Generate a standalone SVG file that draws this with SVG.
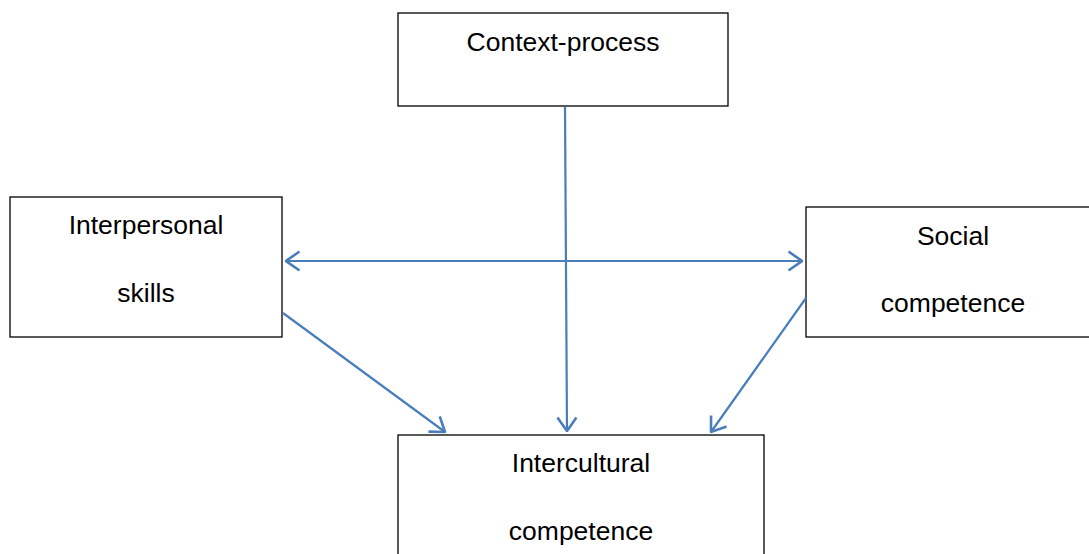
<svg xmlns="http://www.w3.org/2000/svg" width="1089" height="554" viewBox="0 0 1089 554">
<style>
.box{fill:#fff;stroke:#000;stroke-width:1.3}
.t{font-family:"Liberation Sans",Arial,sans-serif;font-size:26.5px;fill:#000;text-anchor:middle}
.c{fill:none;stroke:#4a7ebb;stroke-width:2.2}
</style>
<defs>
<marker id="ah" viewBox="0 0 16 22" refX="15" refY="11" markerWidth="16" markerHeight="22" markerUnits="userSpaceOnUse" orient="auto-start-reverse">
<path d="M1.5,1.5 L15,11 L1.5,20.5" fill="none" stroke="#4a7ebb" stroke-width="2.6"/>
</marker>
</defs>
<rect width="1089" height="554" fill="#fff"/>
<g id="n-context"><rect class="box" x="398" y="13" width="330" height="93"/><text class="t" x="563" y="51">Context-process</text></g>
<g id="n-interpersonal"><rect class="box" x="10" y="197" width="272" height="140"/><text class="t" x="146" y="234">Interpersonal</text><text class="t" x="146" y="302">skills</text></g>
<g id="n-social"><rect class="box" x="806" y="207" width="290" height="130"/><text class="t" x="953" y="245">Social</text><text class="t" x="953" y="312">competence</text></g>
<g id="n-intercultural"><rect class="box" x="398" y="435" width="366" height="130"/><text class="t" x="581" y="472">Intercultural</text><text class="t" x="581" y="540">competence</text></g>
<g id="connectors">
<path class="c" d="M565,107 L567,431" marker-end="url(#ah)"/>
<path class="c" d="M286,261 L802,261" marker-start="url(#ah)" marker-end="url(#ah)"/>
<path class="c" d="M283,313 L445,432" marker-end="url(#ah)"/>
<path class="c" d="M806,298 L711,432" marker-end="url(#ah)"/>
</g>
</svg>
